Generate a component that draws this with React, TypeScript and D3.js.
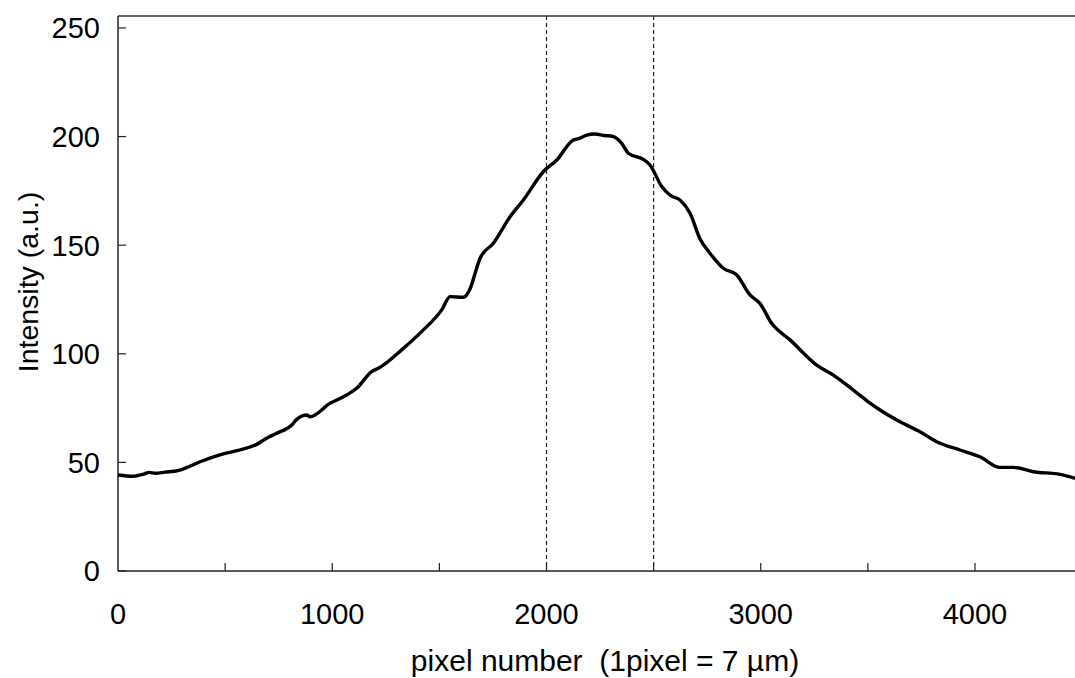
import React from "react";
import * as d3 from "d3";

const pixelNumber = [0,70,120,145,175,220,280,330,383,484,560,647,700,741,811,834,881,896,990,1067,1114,1184,1215,1332,1417,1511,1550,1612,1643,1674,1690,1752,1830,1892,1985,2048,2125,2150,2188,2226,2270,2312,2351,2382,2452,2483,2538,2576,2623,2670,2716,2763,2825,2888,2950,2996,3051,3137,3261,3339,3432,3502,3557,3650,3743,3821,3930,4023,4117,4179,4272,4397,4467];
const intensity = [44.2,43.6,44.6,45.4,45,45.5,46.2,48,50.3,53.7,55.5,58.3,61.5,63.4,67.2,69.8,71.8,71.0,77.2,81,84.1,91.8,93.3,102.5,110.2,120.2,126.3,126,129.8,139.4,144,150.9,163.1,170.8,183.8,189.2,198.4,199,200.7,201.2,200.5,200,196.9,192.3,189.5,186.9,177,173.1,170.8,164.7,153,146.3,139.4,136.3,127.1,123.2,114,106.4,94.8,90.2,83.3,77.9,74.1,68.7,64.1,59.5,55.7,52.6,47.7,47.7,45.7,44.5,42.7];
const xTickLabels = [0, 1000, 2000, 3000, 4000];
const xMinorTicks = [500, 1000, 1500, 2000, 2500, 3000, 3500, 4000];
const yTickLabels = [0, 50, 100, 150, 200, 250];
const markerLines = [2000, 2500];

export default function App() {
  const W = 1075, H = 678;
  const left = 118, bottom = 571, top = 16;
  const x = d3.scaleLinear().domain([0, 4500]).range([left, left + 4500 * 0.21425]);
  const y = d3.scaleLinear().domain([0, 255.5]).range([bottom, top]);
  const data = pixelNumber.map((p, i) => [p, intensity[i]] as [number, number]);
  const line = d3.line<[number, number]>().x(d => x(d[0])).y(d => y(d[1])).curve(d3.curveMonotoneX);
  const font = "'Liberation Sans', Arial, sans-serif";
  return (
    <svg width={W} height={H} style={{ position: "absolute", left: 0, top: 0, display: "block", background: "#fff" }} fontFamily={font}>
      {markerLines.map(m => (
        <line key={m} x1={x(m)} x2={x(m)} y1={top} y2={bottom} stroke="#222" strokeWidth={1.2} strokeDasharray="4,3" />
      ))}
      <line x1={left} x2={W} y1={top} y2={top} stroke="#333" strokeWidth={1.5} />
      <line x1={left} x2={left} y1={top} y2={bottom} stroke="#222" strokeWidth={1.5} />
      <line x1={left} x2={W} y1={bottom} y2={bottom} stroke="#222" strokeWidth={1.5} />
      {yTickLabels.map(v => (
        <g key={v}>
          <line x1={left} x2={left + 8} y1={y(v)} y2={y(v)} stroke="#222" strokeWidth={1.2} />
          <text x={100} y={y(v)} dy="0.36em" textAnchor="end" fontSize={29} fill="#000">{v}</text>
        </g>
      ))}
      {xMinorTicks.map(v => (
        <line key={v} x1={x(v)} x2={x(v)} y1={bottom} y2={bottom - 8} stroke="#222" strokeWidth={1.2} />
      ))}
      {xTickLabels.map(v => (
        <text key={v} x={x(v)} y={624} textAnchor="middle" fontSize={29} fill="#000">{v}</text>
      ))}
      <path d={line(data) || ""} fill="none" stroke="#000" strokeWidth={3.4} strokeLinejoin="round" />
      <text x={605} y={671} textAnchor="middle" fontSize={30} fill="#000" style={{ whiteSpace: "pre" }} xmlSpace="preserve">{"pixel number  (1pixel = 7 \u00B5m)"}</text>
      <text transform={`translate(38,282) rotate(-90)`} textAnchor="middle" fontSize={28.5} fill="#000">Intensity (a.u.)</text>
    </svg>
  );
}
